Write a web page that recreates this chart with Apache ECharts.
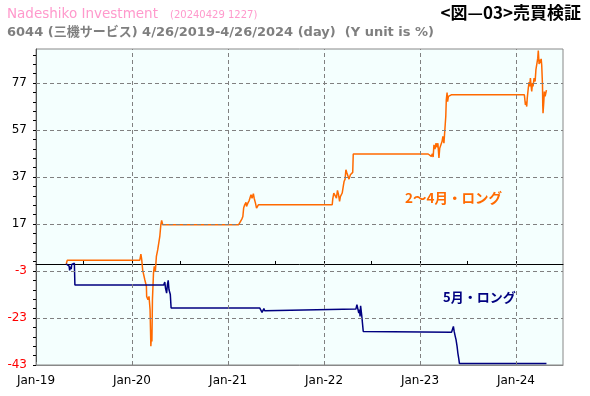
<!DOCTYPE html>
<html>
<head>
<meta charset="utf-8">
<script src="https://cdn.jsdelivr.net/npm/echarts@6/dist/echarts.min.js"></script>
<style>html,body{margin:0;padding:0;background:#fff}#c{width:590px;height:396px}</style>
</head>
<body>
<div id="c"></div>
<script>
// ---- data ----
const orangeData = [
 ['2019-04-26',0],['2019-04-30',1.6],['2020-01-31',1.6],['2020-02-04',4.2],['2020-02-07',2.1],
 ['2020-02-11',-2.7],['2020-02-19',-6.7],['2020-02-25',-9.5],['2020-02-26',-13.8],['2020-03-02',-15.2],
 ['2020-03-06',-13.8],['2020-03-10',-19.5],['2020-03-13',-35],['2020-03-16',-28],['2020-03-17',-33],
 ['2020-03-19',-15.2],['2020-03-23',-3.9],['2020-03-26',-1],['2020-03-30',-3.2],['2020-04-03',3.2],
 ['2020-04-08',6],['2020-04-13',5.3],['2020-04-16',11.7],['2020-04-20',16.7],['2020-04-23',18.5],
 ['2020-04-27',16.7],['2020-04-30',16.7],
 ['2021-02-01',16.7],['2021-02-03',16.3],['2021-02-10',16.7],['2021-02-15',17.7],['2021-02-18',18.5],
 ['2021-02-22',19.1],['2021-02-26',20.2],['2021-03-01',23.8],['2021-03-05',25.2],['2021-03-10',26.2],
 ['2021-03-12',24.5],['2021-03-17',25.9],['2021-03-22',27],['2021-03-29',29.5],['2021-04-02',28],
 ['2021-04-07',29.9],['2021-04-10',28],['2021-04-15',25.9],['2021-04-19',23.8],['2021-04-23',24.5],
 ['2021-04-26',25.2],['2021-04-30',25.2],
 ['2022-02-01',25.2],['2022-02-03',27.6],['2022-02-07',30.2],['2022-02-10',29.5],['2022-02-14',30.4],
 ['2022-02-17',28],['2022-02-21',31.3],['2022-02-25',29.5],['2022-03-01',26.6],['2022-03-04',28.7],
 ['2022-03-08',28],['2022-03-11',30.2],['2022-03-15',33],['2022-03-18',35.1],['2022-03-22',36.1],
 ['2022-03-25',40.1],['2022-03-29',38.7],['2022-04-01',39.4],['2022-04-06',36.1],['2022-04-11',38],
 ['2022-04-15',38.7],['2022-04-20',39],['2022-04-22',46.8],['2022-04-30',46.8],
 ['2023-02-01',46.8],['2023-02-07',46.5],['2023-02-13',45.8],['2023-02-17',46.9],['2023-02-20',45.5],
 ['2023-02-23',50.7],['2023-02-27',48.9],['2023-03-03',51.4],['2023-03-07',49.7],['2023-03-10',51.4],
 ['2023-03-14',45.1],['2023-03-17',49.3],['2023-03-22',48.6],['2023-03-26',52.2],['2023-03-29',54.3],
 ['2023-04-02',51.4],['2023-04-06',57.9],['2023-04-09',62.8],['2023-04-11',69.9],['2023-04-14',73],
 ['2023-04-16',69.1],['2023-04-19',71.3],['2023-04-21',72],['2023-04-30',72],
 ['2024-02-02',72],['2024-02-06',67.7],['2024-02-08',69.1],['2024-02-11',67],['2024-02-13',70.6],
 ['2024-02-17',74.9],['2024-02-20',77.4],['2024-02-22',75.6],['2024-02-25',79.1],['2024-02-27',76.6],
 ['2024-03-01',73.4],['2024-03-04',77],['2024-03-06',75.6],['2024-03-10',79.1],['2024-03-14',77.7],
 ['2024-03-17',82.7],['2024-03-21',83.4],['2024-03-24',87.6],['2024-03-26',90.8],['2024-03-29',85.1],
 ['2024-04-01',87],['2024-04-03',85.5],['2024-04-06',87.3],['2024-04-08',84.7],['2024-04-11',76.2],
 ['2024-04-12',67.7],['2024-04-13',64.2],['2024-04-16',69.1],['2024-04-18',73.4],['2024-04-21',71.3],
 ['2024-04-26',74]
];
const blueData = [
 ['2019-04-26',0],['2019-05-01',0.5],['2019-05-07',-0.9],['2019-05-09',-2.7],['2019-05-13',-1.2],
 ['2019-05-15',-2.2],['2019-05-17',-0.2],['2019-05-21',-0.8],['2019-05-23',-0.2],['2019-05-27',0.3],
 ['2019-05-29',-8.9],
 ['2020-05-01',-8.9],['2020-05-05',-7.7],['2020-05-08',-10.5],['2020-05-12',-12.4],['2020-05-15',-8.8],
 ['2020-05-18',-7.0],['2020-05-21',-11],['2020-05-26',-13],['2020-05-29',-18.7],
 ['2021-05-01',-18.7],['2021-05-06',-18.5],['2021-05-10',-20.6],['2021-05-13',-19.8],['2021-05-17',-19.0],
 ['2021-05-20',-19.9],['2021-05-25',-19.2],
 ['2022-05-02',-19.2],['2022-05-06',-17.3],['2022-05-10',-18],['2022-05-13',-20.9],['2022-05-16',-19.5],
 ['2022-05-18',-22.3],['2022-05-20',-17.8],['2022-05-24',-21.6],['2022-05-26',-22.3],['2022-05-30',-28.7],
 ['2022-05-31',-29.1],
 ['2023-05-01',-29.1],['2023-05-03',-28.3],['2023-05-08',-26.6],['2023-05-11',-28.7],['2023-05-15',-30.8],
 ['2023-05-18',-32.2],['2023-05-22',-35.1],['2023-05-25',-37.9],['2023-05-29',-40.7],['2023-05-31',-42.4],
 ['2024-04-26',-42.4]
];
const yearTicks = ['2019-01-01','2020-01-01','2021-01-01','2022-01-01','2023-01-01','2024-01-01'];
const halfYearTicks = ['2019-07-01','2020-01-01','2020-07-01','2021-01-01','2021-07-01','2022-01-01',
  '2022-07-01','2023-01-01','2023-07-01','2024-01-01'];
const yLabelValues = [-43,-23,-3,17,37,57,77];
const yMinorTicks = [-43,-39,-35,-31,-27,-23,-19,-15,-11,-7,-3,1,5,9,13,17,21,25,29,33,37,41,45,49,53,57,61,65,69,73,77,81,85,89];
const seriesNames = ['2〜4月・ロング','5月・ロング'];
const xMin = '2019-01-01', xMax = '2024-06-28';
const yMin = -43, yMax = 91.5;

// ---- build ----
const ts = s => Date.parse(s);
const toPts = arr => arr.map(d => [ts(d[0]), d[1]]);
const MON = ['Jan','Feb','Mar','Apr','May','Jun','Jul','Aug','Sep','Oct','Nov','Dec'];
const gridDash = {color:'#808080', width:1, type:[4,3]};
const latin = 'DejaVu Sans, Noto Sans CJK JP, sans-serif';

const chart = echarts.init(document.getElementById('c'));
chart.setOption({
  animation: false,
  backgroundColor: '#ffffff',
  grid: {left: 36, right: 27, top: 49, bottom: 31, show: true,
         backgroundColor: '#f4fffe', borderColor: '#888', borderWidth: 1},
  xAxis: [{
    type: 'value', min: ts(xMin), max: ts(xMax), position: 'bottom', scale: true,
    axisLine: {onZero: false, lineStyle: {color: '#888', width: 1}},
    axisTick: {show: true, inside: true, length: 3, lineStyle: {color: '#888'},
               customValues: yearTicks.map(ts)},
    axisLabel: {customValues: yearTicks.map(ts), color: '#000', fontSize: 12, fontFamily: latin, margin: 10,
                formatter: v => { const d = new Date(v); return MON[d.getUTCMonth()] + '-' + String(d.getUTCFullYear()).slice(2); }},
    splitLine: {show: false}
  }, {
    type: 'value', min: ts(xMin), max: ts(xMax), position: 'top', scale: true,
    axisLine: {onZero: true, onZeroAxisIndex: 0, lineStyle: {color: '#000', width: 1}},
    axisTick: {show: true, length: 3, lineStyle: {color: '#000'}, customValues: halfYearTicks.map(ts)},
    axisLabel: {show: false},
    splitLine: {show: false}
  }],
  yAxis: [{
    type: 'value', min: yMin, max: yMax,
    axisLine: {show: true, lineStyle: {color: '#555', width: 1}},
    axisTick: {show: true, length: 3, lineStyle: {color: '#000'}, customValues: yMinorTicks},
    axisLabel: {customValues: yLabelValues, fontSize: 12, fontFamily: latin, margin: 9,
                color: v => (v < 0 ? '#ff0000' : '#000000')},
    splitLine: {show: false}
  }],
  series: [{
    type: 'line', name: 'grid', z: 1, silent: true, symbol: 'none',
    data: [[ts(xMin), null]], lineStyle: {width: 0},
    markLine: {silent: true, symbol: ['none','none'], label: {show: false}, lineStyle: gridDash,
      animation: false,
      data: yLabelValues.slice(1).map(v => ({yAxis: v}))
            .concat(yearTicks.slice(1).map(d => ({xAxis: ts(d)})))}
  }, {
    type: 'line', name: seriesNames[0], z: 3, symbol: 'none', showSymbol: false,
    data: toPts(orangeData), lineStyle: {color: '#ff6a00', width: 1.5}, itemStyle: {color: '#ff6a00'}
  }, {
    type: 'line', name: seriesNames[1], z: 3, symbol: 'none', showSymbol: false,
    data: toPts(blueData), lineStyle: {color: '#000080', width: 1.5}, itemStyle: {color: '#000080'}
  }],
  graphic: [
    {type: 'text', left: 7, top: 8, style: {text: 'Nadeshiko Investment', fill: '#ff99cc', font: '13.5px ' + latin}},
    {type: 'text', left: 170, top: 10, style: {text: '(20240429 1227)', fill: '#ff99cc', font: '10px ' + latin}},
    {type: 'text', left: 7, top: 26, style: {text: '6044 (三機サービス) 4/26/2019-4/26/2024 (day)  (Y unit is %)', fill: '#7f7f7f', font: 'bold 13px ' + latin}},
    {type: 'text', right: 9, top: 4, style: {text: '<図—03>売買検証', fill: '#000', font: 'bold 17px Noto Sans CJK JP, sans-serif'}},
    {type: 'text', left: 405, top: 191, style: {text: seriesNames[0], fill: '#ff6a00', font: 'bold 13.5px Noto Sans CJK JP, sans-serif'}},
    {type: 'text', left: 443, top: 291, style: {text: seriesNames[1], fill: '#000080', font: 'bold 13px Noto Sans CJK JP, sans-serif'}}
  ]
});
</script>
</body>
</html>
